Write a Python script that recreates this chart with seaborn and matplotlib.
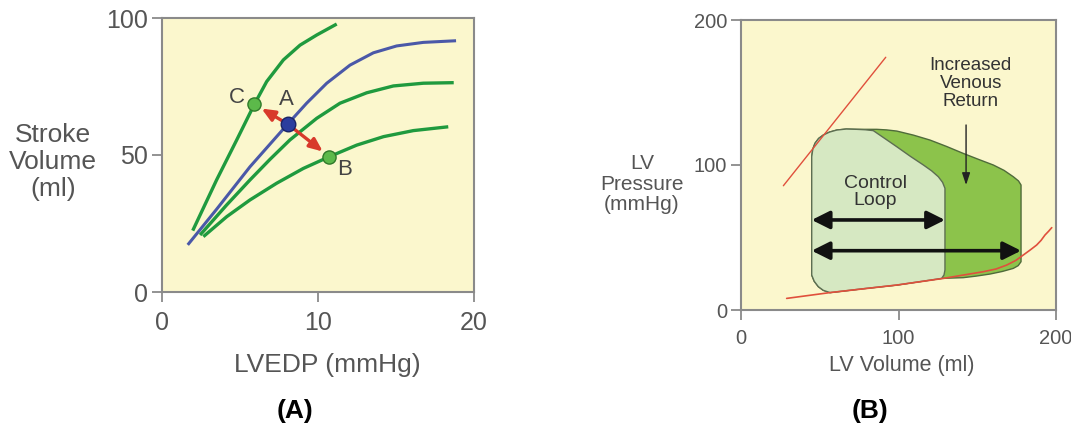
import numpy as np
import pandas as pd
import matplotlib
matplotlib.use("Agg")
import matplotlib.pyplot as plt
from matplotlib.patches import Polygon
import seaborn as sns

sns.set_theme(style="white")
plt.rcParams['font.family'] = ['Liberation Sans', 'DejaVu Sans']

# ---------------- Panel A data ----------------
blue_x = [1.65, 3.5, 5.64, 8.06, 9.27, 10.56, 12.05, 13.55, 15.04, 16.75, 18.85]
blue_y = [17.2, 30.2, 45.7, 61.3, 68.9, 76.2, 82.8, 87.3, 89.8, 91.1, 91.7]
g1_x = [1.97, 3.5, 4.79, 5.92, 6.71, 7.78, 8.85, 9.92, 11.2]
g1_y = [22.4, 40.9, 55.5, 68.5, 76.8, 84.7, 90.1, 93.8, 97.8]
g2_x = [2.44, 4.15, 5.64, 6.92, 8.2, 9.92, 11.41, 13.12, 14.83, 16.75, 18.7]
g2_y = [20.8, 31.8, 40.9, 48.4, 55.5, 63.4, 68.9, 72.7, 75.2, 76.2, 76.4]
g3_x = [2.65, 4.15, 5.64, 7.35, 9.06, 10.73, 12.48, 14.2, 16.11, 18.35]
g3_y = [20.2, 27.5, 33.6, 39.7, 45.1, 49.4, 53.6, 56.7, 58.9, 60.3]
pt_names = ["C", "A", "B"]
pt_x = [5.92, 8.06, 10.73]
pt_y = [68.5, 61.3, 49.4]
lbl_x = [4.83, 8.0, 11.7]
lbl_y = [71.1, 70.3, 44.8]
a_xticks = [0, 10, 20]
a_yticks = [0, 50, 100]

# ---------------- Panel B data ----------------
espvr_v = [26.9, 91.9]
espvr_p = [85.7, 174.3]
edpvr_v = [29.0, 56.5, 98.9, 128.5, 153.8, 162.0, 168.7, 174.5, 179.2, 183.5,
           187.7, 190.5, 193.0, 195.3, 197.3]
edpvr_p = [8.0, 12.0, 17.2, 21.8, 26.4, 28.3, 31.0, 34.2, 37.9, 41.3,
           44.8, 48.0, 51.7, 54.3, 56.8]
ctrl_v = [44.9, 45.6, 47.0, 49.3, 52.3, 56.2, 60.8, 66.8, 73.4, 79.0, 84.0, 91.0,
          98.9, 107.5, 115.8, 121.0, 125.3, 128.0, 129.5, 129.5,
          128.9, 127.4, 98.9, 77.7, 56.5, 52.2, 49.1, 46.5, 44.9]
ctrl_p = [105.7, 111.0, 115.0, 118.3, 120.7, 122.7, 124.1, 124.8, 124.6, 124.3, 123.7, 118.5,
          112.6, 106.0, 100.0, 96.0, 91.9, 88.0, 83.9, 27.6,
          24.2, 21.8, 17.2, 14.7, 12.0, 13.6, 16.1, 19.8, 24.1]
inc_v = [44.9, 45.6, 47.0, 49.3, 52.3, 56.2, 60.8, 66.8, 73.4, 79.0, 86.2, 92.5, 98.9,
         109.5, 120.0, 130.5, 141.1, 151.0, 160.2, 167.0, 172.9, 176.2, 177.8,
         177.8, 176.0, 172.9, 166.0, 158.1, 149.5, 141.1, 127.4, 98.9, 77.7, 56.5,
         52.2, 49.1, 46.5, 44.9]
inc_p = [105.7, 111.0, 115.0, 118.3, 120.7, 122.7, 124.1, 124.8, 124.6, 124.6, 124.6, 124.2, 123.4,
         120.6, 117.2, 112.8, 108.0, 103.8, 100.0, 96.3, 91.9, 89.0, 86.2,
         33.3, 30.6, 28.7, 26.6, 24.8, 23.4, 22.3, 21.8, 17.2, 14.7, 12.0,
         13.6, 16.1, 19.8, 24.1]
sv_arrows_p = [62.1, 40.9]
sv_arrows_v0 = [44.9, 44.9]
sv_arrows_v1 = [129.5, 177.8]
b_xticks = [0, 100, 200]
b_yticks = [0, 100, 200]

BG = "#fbf7cd"
SPINE = "#8a8a8a"
TXT = "#555555"
GREEN = "#1f9a3e"
BLUE = "#4a58a8"

fig = plt.figure(figsize=(10.71, 4.32), dpi=100)
fig.patch.set_facecolor("white")

axA = fig.add_axes([162/1071, 1-292/432, 312/1071, 274/432])
axB = fig.add_axes([741/1071, 1-310/432, 315/1071, 290/432])

for ax in (axA, axB):
    ax.set_facecolor(BG)
    for s in ax.spines.values():
        s.set_color(SPINE)
        s.set_linewidth(1.5)
    ax.grid(False)

# ---- Panel A ----
for xs, ys, col, lw in [(g1_x, g1_y, GREEN, 2.4), (g2_x, g2_y, GREEN, 2.4),
                        (g3_x, g3_y, GREEN, 2.4), (blue_x, blue_y, BLUE, 2.2)]:
    sns.lineplot(x=xs, y=ys, ax=axA, color=col, lw=lw, sort=False,
                 estimator=None, solid_capstyle='butt', solid_joinstyle='round')

for i in (0, 2):
    axA.annotate("", xy=(pt_x[i], pt_y[i]), xytext=(pt_x[1], pt_y[1]),
                 arrowprops=dict(arrowstyle="-|>,head_length=0.65,head_width=0.28",
                                 color="#d8392b", lw=2.4, shrinkA=0, shrinkB=6))

sns.scatterplot(x=[pt_x[0], pt_x[2]], y=[pt_y[0], pt_y[2]], ax=axA, s=90,
                color="#5cb94a", edgecolor="#2f7a2a", linewidth=1.0, zorder=5)
sns.scatterplot(x=[pt_x[1]], y=[pt_y[1]], ax=axA, s=110,
                color="#2b3d9e", edgecolor="#1a2466", linewidth=1.0, zorder=5)
for n, x, y in zip(pt_names, lbl_x, lbl_y):
    axA.text(x, y, n, fontsize=16, color="#444444", ha="center", va="center")

axA.set_xlim(0, 20)
axA.set_ylim(0, 100)
axA.set_xticks(a_xticks)
axA.set_yticks(a_yticks)
axA.tick_params(axis="both", which="both", direction="out", length=7, width=1.3,
                color=SPINE, labelsize=18, labelcolor=TXT, left=True, bottom=True)
axA.tick_params(axis="x", pad=7)
axA.tick_params(axis="y", pad=3)
axA.set_xlabel("")
axA.set_ylabel("")
fig.text(53/1071, 1-162/432, "Stroke\nVolume\n(ml)", fontsize=19, color=TXT,
         ha="center", va="center", linespacing=1.15)
fig.text(327/1071, 1-365/432, "LVEDP (mmHg)", fontsize=19, color=TXT,
         ha="center", va="center")
fig.text(295/1071, 1-411/432, "(A)", fontsize=19, fontweight="bold",
         color="black", ha="center", va="center")

# ---- Panel B ----
axB.add_patch(Polygon(np.column_stack([inc_v, inc_p]), closed=True,
                      facecolor="#8cc34b", edgecolor="#4f6b3a", lw=1.0, zorder=2,
                      joinstyle='round'))
axB.add_patch(Polygon(np.column_stack([ctrl_v, ctrl_p]), closed=True,
                      facecolor="#d6e8c2", edgecolor="#5d6e52", lw=1.0, zorder=3,
                      joinstyle='round'))
sns.lineplot(x=espvr_v, y=espvr_p, ax=axB, color="#e0503c", lw=1.0, sort=False,
             estimator=None, zorder=4)
sns.lineplot(x=edpvr_v, y=edpvr_p, ax=axB, color="#e0503c", lw=1.2, sort=False,
             estimator=None, zorder=4)
for p, v0, v1 in zip(sv_arrows_p, sv_arrows_v0, sv_arrows_v1):
    axB.annotate("", xy=(v1, p), xytext=(v0, p),
                 arrowprops=dict(arrowstyle="<|-|>,head_length=0.9,head_width=0.45",
                                 color="#111111", lw=2.6, shrinkA=0, shrinkB=0),
                 zorder=6)
axB.text(85.1, 81.4, "Control\nLoop", fontsize=14, color="#333333",
         ha="center", va="center", linespacing=1.05, zorder=7)
axB.text(145.8, 156.3, "Increased\nVenous\nReturn", fontsize=13.5, color="#333333",
         ha="center", va="center", linespacing=1.05, zorder=7)
axB.annotate("", xy=(142.9, 86.2), xytext=(142.9, 127.6),
             arrowprops=dict(arrowstyle="-|>,head_length=0.6,head_width=0.2",
                             color="#222222", lw=1.0, shrinkA=0, shrinkB=0), zorder=7)

axB.set_xlim(0, 200)
axB.set_ylim(0, 200)
axB.set_xticks(b_xticks)
axB.set_yticks(b_yticks)
axB.tick_params(axis="both", which="both", direction="out", length=7, width=1.3,
                color=SPINE, labelsize=14.5, labelcolor=TXT, left=True, bottom=True)
axB.tick_params(axis="x", pad=7)
axB.tick_params(axis="y", pad=3)
axB.set_xlabel("")
axB.set_ylabel("")
fig.text(642/1071, 1-184/432, "LV\nPressure\n(mmHg)", fontsize=15, color=TXT,
         ha="center", va="center", linespacing=1.1)
fig.text(902/1071, 1-366/432, "LV Volume (ml)", fontsize=15.5, color=TXT,
         ha="center", va="center")
fig.text(870/1071, 1-411/432, "(B)", fontsize=19, fontweight="bold",
         color="black", ha="center", va="center")

fig.savefig("out.png", dpi=100, facecolor="white")
